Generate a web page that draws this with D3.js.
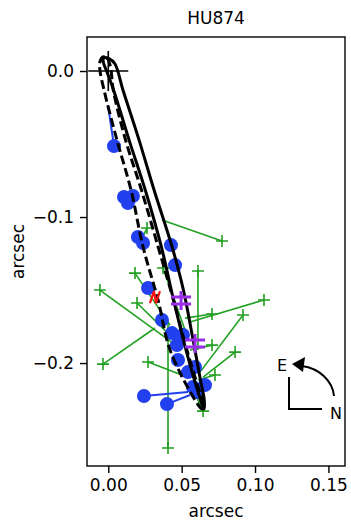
<!DOCTYPE html>
<html>
<head>
<meta charset="utf-8">
<script src="https://cdn.jsdelivr.net/npm/d3@7"></script>
<style>
  body { margin: 0; background: #fff; }
  svg { display: block; font-family: "DejaVu Sans", sans-serif; }
</style>
</head>
<body>
<svg id="chart" width="351" height="526"></svg>
<script>
// orbit traces, [x, y] in arcsec
const orbitNew = [
  [-0.0030, 0.0090], [0.0005, 0.0085], [0.0045, 0.0050], [0.0100, -0.0130],
  [0.0210, -0.0473], [0.0312, -0.0815], [0.0435, -0.1205], [0.0512, -0.1500],
  [0.0578, -0.1842], [0.0628, -0.2116], [0.0654, -0.2253], [0.0652, -0.2315],
  [0.0608, -0.2185], [0.0530, -0.1911], [0.0445, -0.1568], [0.0362, -0.1205],
  [0.0252, -0.0815], [0.0142, -0.0473], [0.0036, -0.0130], [-0.0014, 0.0007],
  [-0.0034, 0.0062]
];
const orbitOld = [
  [-0.0036, 0.0096], [-0.0009, 0.0089], [0.0014, 0.0034], [0.0034, -0.0130],
  [0.0118, -0.0473], [0.0226, -0.0815], [0.0340, -0.1205], [0.0444, -0.1568],
  [0.0536, -0.1911], [0.0608, -0.2151], [0.0646, -0.2274], [0.0639, -0.2315],
  [0.0591, -0.2253], [0.0421, -0.1911], [0.0339, -0.1568], [0.0237, -0.1205],
  [0.0155, -0.0815], [0.0059, -0.0473], [-0.0029, -0.0130], [-0.0057, 0.0007],
  [-0.0057, 0.0062]
];

// speckle measures: observed position and position predicted by the orbit
const speckleObs = [
  [0.0039, -0.0514], [0.0107, -0.0863], [0.0168, -0.0856], [0.0134, -0.0904],
  [0.0202, -0.1137], [0.0237, -0.1178], [0.0427, -0.1192], [0.0455, -0.1329],
  [0.0271, -0.1486], [0.0366, -0.1705], [0.0434, -0.1795], [0.0509, -0.1808],
  [0.0468, -0.1877], [0.0475, -0.1979], [0.0591, -0.2027], [0.0543, -0.2062],
  [0.0577, -0.2164], [0.0659, -0.2151], [0.0605, -0.2199], [0.0243, -0.2226],
  [0.0400, -0.2281]
];
const specklePred = [
  [-0.0002, -0.0233], [0.0093, -0.0836], [0.0134, -0.0842], [0.0134, -0.0884],
  [0.0189, -0.1123], [0.0223, -0.1178], [0.0407, -0.1192], [0.0455, -0.1308],
  [0.0298, -0.1473], [0.0373, -0.1692], [0.0441, -0.1781], [0.0496, -0.1829],
  [0.0475, -0.1863], [0.0496, -0.1966], [0.0571, -0.2034], [0.0543, -0.2048],
  [0.0591, -0.2151], [0.0639, -0.2171], [0.0611, -0.2219], [0.0543, -0.2199],
  [0.0557, -0.2219]
];

// visual (micrometer) measures
const visualObs = [
  [-0.0057, -0.1500], [0.0264, -0.1075], [0.0775, -0.1164], [0.0182, -0.1384],
  [0.0373, -0.1349], [0.0611, -0.1370], [0.1061, -0.1568], [0.0918, -0.1671],
  [0.0196, -0.1589], [0.0707, -0.1664], [0.0864, -0.1925], [-0.0036, -0.2007],
  [0.0271, -0.1993], [0.0727, -0.2082], [0.0646, -0.2329], [0.0407, -0.2582],
  [0.0707, -0.1877]
];
const visualPred = [
  [0.0441, -0.1863], [0.0237, -0.1130], [0.0366, -0.1021], [0.0421, -0.1740],
  [0.0523, -0.1774], [0.0611, -0.1911], [0.0557, -0.1719], [0.0625, -0.2062],
  [0.0489, -0.1877], [0.0523, -0.1692], [0.0646, -0.2096], [0.0318, -0.1760],
  [0.0502, -0.2082], [0.0611, -0.2116], [0.0605, -0.2240], [0.0407, -0.1719],
  [0.0557, -0.1911]
];

const hipparcosObs = [[0.0318, -0.1548]];
const otherObs = [[0.0496, -0.1568], [0.0591, -0.1863]];

const xTicks = [0, 0.05, 0.10, 0.15];
const yTicks = [0, -0.1, -0.2];
const titleText = "HU874";

const margin = { top: 37, right: 6, bottom: 60, left: 87 };
const width = 351, height = 526;

const svg = d3.select("#chart");

const x = d3.scaleLinear()
  .domain([-0.0145, 0.1613])
  .range([margin.left, width - margin.right]);
const y = d3.scaleLinear()
  .domain([-0.2705, 0.0233])
  .range([height - margin.bottom, margin.top]);

const colors = {
  orbit: "#000",
  speckle: "#2240ee",
  visual: "#21a021",
  hip: "#ff1010",
  other: "#9a2ee8"
};

const plot = svg.append("g");

// visual measures: O-C lines then crosses
plot.append("g").selectAll("line")
  .data(visualObs)
  .join("line")
    .attr("x1", d => x(d[0])).attr("y1", d => y(d[1]))
    .attr("x2", (d, i) => x(visualPred[i][0])).attr("y2", (d, i) => y(visualPred[i][1]))
    .attr("stroke", colors.visual)
    .attr("stroke-width", 1.6);

plot.append("g").selectAll("path")
  .data(visualObs)
  .join("path")
    .attr("d", d => {
      const cx = x(d[0]), cy = y(d[1]), s = 6;
      return `M${cx - s},${cy}H${cx + s}M${cx},${cy - s}V${cy + s}`;
    })
    .attr("stroke", colors.visual)
    .attr("stroke-width", 1.6)
    .attr("fill", "none");

// speckle measures
plot.append("g").selectAll("line")
  .data(speckleObs)
  .join("line")
    .attr("x1", d => x(d[0])).attr("y1", d => y(d[1]))
    .attr("x2", (d, i) => x(specklePred[i][0])).attr("y2", (d, i) => y(specklePred[i][1]))
    .attr("stroke", colors.speckle)
    .attr("stroke-width", 2);

plot.append("g").selectAll("circle")
  .data(speckleObs)
  .join("circle")
    .attr("cx", d => x(d[0]))
    .attr("cy", d => y(d[1]))
    .attr("r", 7)
    .attr("fill", colors.speckle);

// orbits
const line = d3.line()
  .x(d => x(d[0]))
  .y(d => y(d[1]))
  .curve(d3.curveCatmullRomClosed.alpha(0.5));

plot.append("path")
  .datum(orbitOld)
  .attr("d", line)
  .attr("fill", "none")
  .attr("stroke", colors.orbit)
  .attr("stroke-width", 3)
  .attr("stroke-dasharray", "9,4");

plot.append("path")
  .datum(orbitNew)
  .attr("d", line)
  .attr("fill", "none")
  .attr("stroke", colors.orbit)
  .attr("stroke-width", 3);

// primary star at the origin
const cross = 20;
plot.append("path")
  .attr("d", `M${x(0) - cross},${y(0)}H${x(0) + cross}M${x(0)},${y(0) - cross}V${y(0) + cross}`)
  .attr("stroke", "#000")
  .attr("stroke-width", 1.6);

// other markers
plot.append("g").selectAll("path")
  .data(hipparcosObs)
  .join("path")
    .attr("d", d => {
      const cx = x(d[0]), cy = y(d[1]);
      return `M${cx - 5},${cy + 6}L${cx - 1},${cy - 6}L${cx + 1},${cy + 6}L${cx + 5},${cy - 6}`;
    })
    .attr("stroke", colors.hip)
    .attr("stroke-width", 2.2)
    .attr("fill", "none");

plot.append("g").selectAll("path")
  .data(otherObs)
  .join("path")
    .attr("d", d => {
      const cx = x(d[0]), cy = y(d[1]), s = 10;
      return `M${cx - s},${cy - 3}H${cx + s}M${cx - s},${cy + 4}H${cx + s}M${cx},${cy - 9}V${cy + 10}`;
    })
    .attr("stroke", colors.other)
    .attr("stroke-width", 3)
    .attr("fill", "none");

// frame
svg.append("rect")
  .attr("x", margin.left)
  .attr("y", margin.top)
  .attr("width", width - margin.left - margin.right)
  .attr("height", height - margin.top - margin.bottom)
  .attr("fill", "none")
  .attr("stroke", "#000")
  .attr("stroke-width", 1.4);

// axes
const xAxis = svg.append("g")
  .attr("transform", `translate(0,${height - margin.bottom})`)
  .call(d3.axisBottom(x).tickValues(xTicks).tickFormat(d3.format(".2f")).tickSize(7).tickPadding(6));
const yAxis = svg.append("g")
  .attr("transform", `translate(${margin.left},0)`)
  .call(d3.axisLeft(y).tickValues(yTicks).tickFormat(d => d3.format(".1f")(d).replace("-", "\u2212")).tickSize(7).tickPadding(6));

[xAxis, yAxis].forEach(a => {
  a.select(".domain").remove();
  a.selectAll("line").attr("stroke", "#000").attr("stroke-width", 1.4);
  a.selectAll("text")
    .attr("fill", "#000")
    .style("font-size", "17px")
    .style("font-family", "DejaVu Sans, sans-serif");
});

svg.append("text")
  .attr("x", (margin.left + width - margin.right) / 2)
  .attr("y", 517)
  .attr("text-anchor", "middle")
  .style("font-size", "17px")
  .text("arcsec");

svg.append("text")
  .attr("transform", `translate(24,${(margin.top + height - margin.bottom) / 2}) rotate(-90)`)
  .attr("text-anchor", "middle")
  .style("font-size", "17px")
  .text("arcsec");

svg.append("text")
  .attr("x", (margin.left + width - margin.right) / 2)
  .attr("y", 24)
  .attr("text-anchor", "middle")
  .style("font-size", "17px")
  .text(titleText);

// compass (E / N)
const compass = svg.append("g").attr("stroke", "#000").attr("fill", "none").attr("stroke-width", 2);
compass.append("path").attr("d", "M289,377V409H322");
compass.append("path").attr("d", "M334,396A38,33 0 0 0 302,366");
svg.append("path")
  .attr("d", "M292,364L305,357L303,372Z")
  .attr("fill", "#000");
svg.append("text").attr("x", 282).attr("y", 371).attr("text-anchor", "middle").style("font-size", "16px").text("E");
svg.append("text").attr("x", 336).attr("y", 419).attr("text-anchor", "middle").style("font-size", "16px").text("N");
</script>
</body>
</html>
